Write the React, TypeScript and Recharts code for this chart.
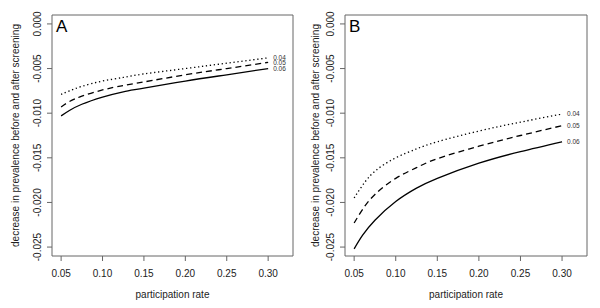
import * as React from 'react';
import { Label, Line, LineChart, ReferenceArea, XAxis, YAxis } from 'recharts';

// participation rates where the curves were read
const rates = [0.05, 0.06, 0.075, 0.1, 0.125, 0.15, 0.2, 0.25, 0.3];

// panel A
const a04 = [-0.0079, -0.0075, -0.007, -0.0064, -0.006, -0.0056, -0.005, -0.0044, -0.0038];
const a05 = [-0.0093, -0.0087, -0.0081, -0.0074, -0.0069, -0.0065, -0.0057, -0.005, -0.0043];
const a06 = [-0.0103, -0.0097, -0.009, -0.0082, -0.0076, -0.0072, -0.0064, -0.0057, -0.005];

// panel B
const b04 = [-0.0195, -0.0181, -0.0165, -0.015, -0.014, -0.0132, -0.012, -0.011, -0.0101];
const b05 = [-0.0223, -0.0208, -0.0191, -0.0173, -0.0161, -0.0151, -0.0137, -0.0125, -0.0114];
const b06 = [-0.0252, -0.0237, -0.022, -0.0199, -0.0184, -0.0173, -0.0156, -0.0143, -0.0132];

const xTicks = [0.05, 0.1, 0.15, 0.2, 0.25, 0.3];
const yTicks = [0, -0.005, -0.01, -0.015, -0.02, -0.025];
const xDomain = [0.039, 0.33];
const yDomain = [-0.026, 0.001];

const ink = '#222';
const frame = '#666';

const buildRows = (s04: number[], s05: number[], s06: number[]) =>
  rates.map((r, i) => ({ rate: r, p04: s04[i], p05: s05[i], p06: s06[i] }));

const YTick = ({ x, y, payload }: any) => (
  <text x={x} y={y} transform={`rotate(-90 ${x} ${y})`} textAnchor="middle" fontSize={10} fill={ink}>
    {Number(payload.value).toFixed(3)}
  </text>
);

const endLabel = (text: string) => (props: any) =>
  props.index === rates.length - 1 ? (
    <text x={props.x + 5} y={props.y} dy={2.3} fontSize={6.5} fill="#333">
      {text}
    </text>
  ) : null;

const YTitle = ({ viewBox }: any) => {
  const x = viewBox.x + 19;
  const y = viewBox.y + viewBox.height / 2;
  return (
    <text x={x} y={y} transform={`rotate(-90 ${x} ${y})`} textAnchor="middle" fontSize={10} fill={ink}>
      decrease in prevalence before and after screening
    </text>
  );
};

const XTitle = ({ viewBox }: any) => (
  <text x={viewBox.x + viewBox.width / 2} y={viewBox.y + 42} textAnchor="middle" fontSize={10} fill={ink}>
    participation rate
  </text>
);

const panelLetter = (letter: string) => ({ viewBox }: any) => (
  <text x={viewBox.x + 4} y={viewBox.y + 16.5} fontSize={17} fill="#000">
    {letter}
  </text>
);

function Panel({ rows, letter, axisWidth, right }: { rows: any[]; letter: string; axisWidth: number; right: number }) {
  return (
    <LineChart width={300} height={308} data={rows} margin={{ top: 15, right, bottom: 0, left: 0 }}>
      <XAxis
        dataKey="rate"
        type="number"
        domain={xDomain}
        allowDataOverflow
        ticks={xTicks}
        tickFormatter={(v: number) => v.toFixed(2)}
        axisLine={false}
        tickLine={{ stroke: frame }}
        tickSize={5}
        tickMargin={9}
        tick={{ fontSize: 10, fill: ink }}
        height={52}
      >
        <Label content={XTitle} />
      </XAxis>
      <YAxis
        type="number"
        domain={yDomain}
        allowDataOverflow
        ticks={yTicks}
        axisLine={false}
        tickLine={{ stroke: frame }}
        tickSize={5}
        tickMargin={6}
        tick={YTick}
        width={axisWidth}
      >
        <Label content={YTitle} />
      </YAxis>
      <ReferenceArea
        x1={xDomain[0]}
        x2={xDomain[1]}
        y1={yDomain[0]}
        y2={yDomain[1]}
        fill="none"
        stroke={frame}
        strokeWidth={1}
        fillOpacity={0}
        label={panelLetter(letter)}
      />
      <Line dataKey="p04" type="natural" stroke="#000" strokeWidth={1.3} strokeDasharray="1.3 2.7" dot={false} isAnimationActive={false} label={endLabel('0.04')} />
      <Line dataKey="p05" type="natural" stroke="#000" strokeWidth={1.3} strokeDasharray="6 4" dot={false} isAnimationActive={false} label={endLabel('0.05')} />
      <Line dataKey="p06" type="natural" stroke="#000" strokeWidth={1.3} dot={false} isAnimationActive={false} label={endLabel('0.06')} />
    </LineChart>
  );
}

export default function App() {
  return (
    <div
      style={{
        position: 'absolute',
        left: 0,
        top: 0,
        width: 600,
        height: 308,
        background: '#fff',
        display: 'flex',
        fontFamily: '"Liberation Sans", Arial, sans-serif',
      }}
    >
      <Panel rows={buildRows(a04, a05, a06)} letter="A" axisWidth={52} right={7} />
      <Panel rows={buildRows(b04, b05, b06)} letter="B" axisWidth={45} right={13} />
    </div>
  );
}
